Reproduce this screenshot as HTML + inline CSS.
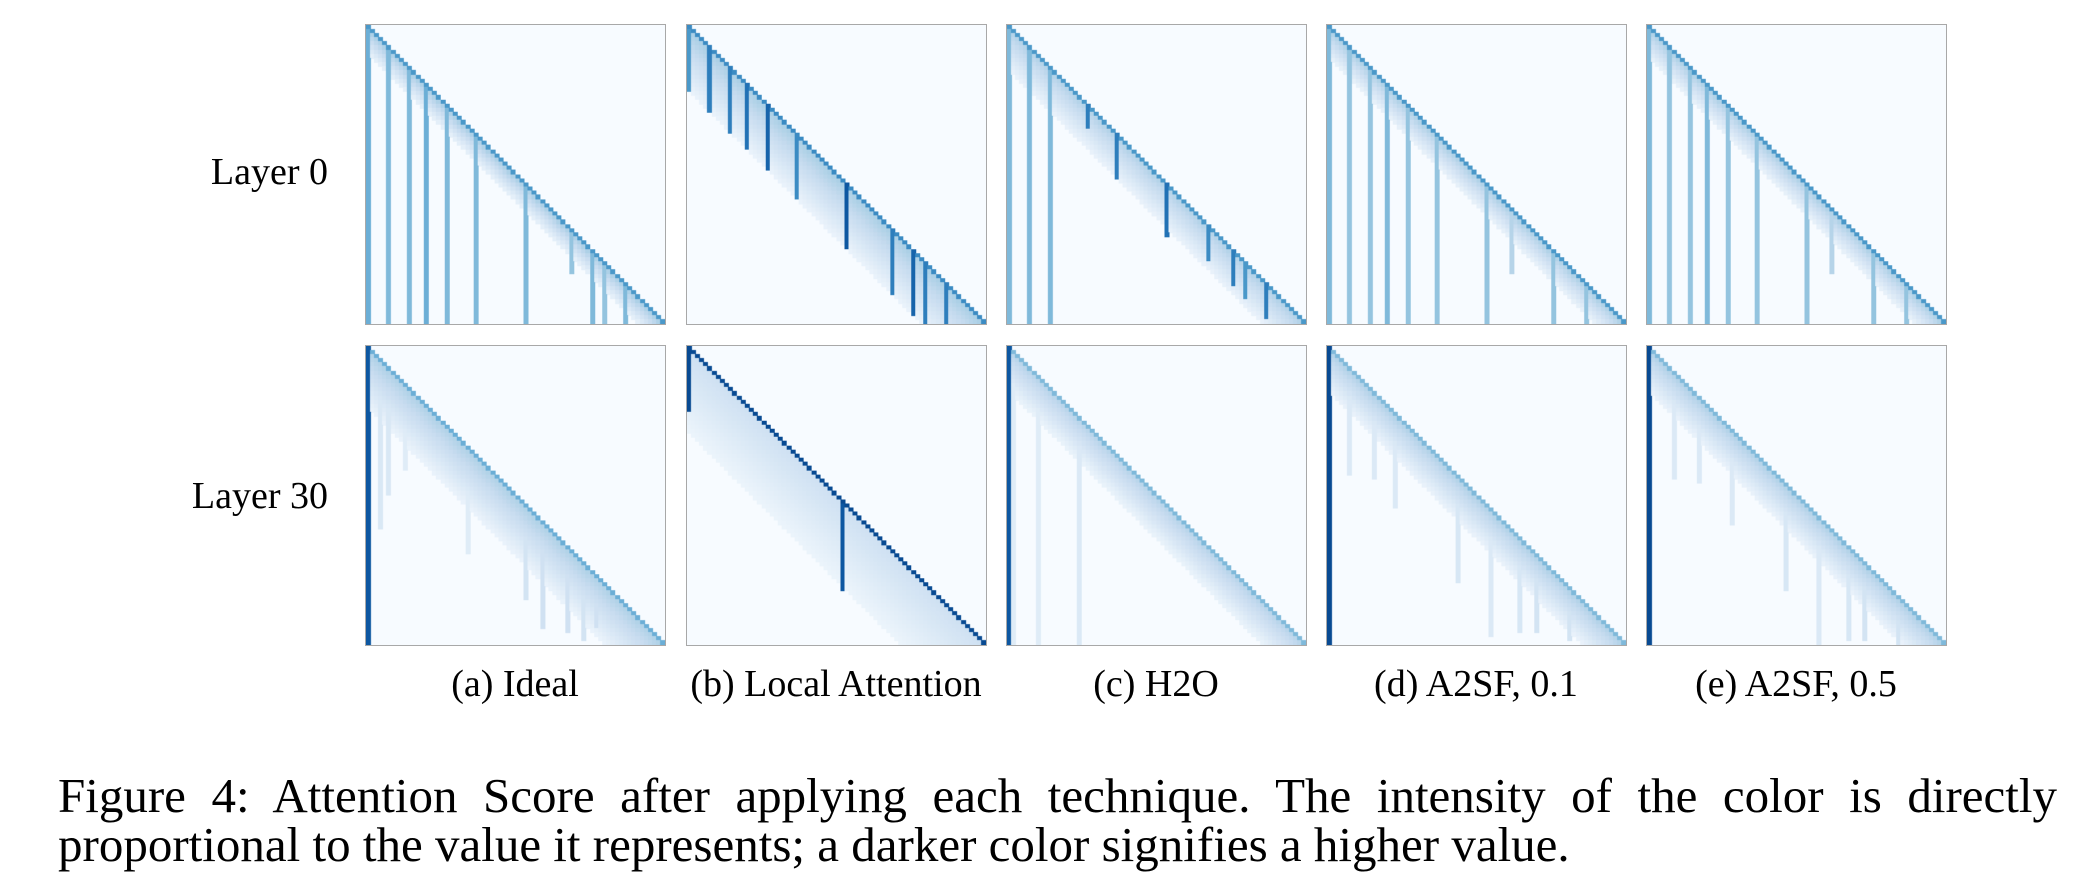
<!DOCTYPE html>
<html><head><meta charset="utf-8">
<style>
body{margin:0;background:#fff;width:2098px;height:896px;overflow:hidden;position:relative;font-family:"Liberation Serif","Times New Roman",serif;color:#000}
canvas{position:absolute;box-sizing:border-box;border:1px solid #a8a8a8}
.rl{position:absolute;font-size:38px;white-space:nowrap}
.pl{position:absolute;font-size:38px;white-space:nowrap;width:320px;text-align:center}
.cap{position:absolute;left:58px;width:1999px;font-size:49px;line-height:60px;white-space:nowrap}
</style></head><body>
<div class="rl" style="right:1770px;top:150px">Layer 0</div>
<div class="rl" style="right:1770px;top:474px">Layer 30</div>
<div id="figs"></div>
<div class="pl" style="left:355px;top:662px">(a) Ideal</div>
<div class="pl" style="left:676px;top:662px">(b) Local Attention</div>
<div class="pl" style="left:996px;top:662px">(c) H2O</div>
<div class="pl" style="left:1316px;top:662px">(d) A2SF, 0.1</div>
<div class="pl" style="left:1636px;top:662px">(e) A2SF, 0.5</div>
<div class="cap" style="top:766px;text-align:justify;text-align-last:justify">Figure 4: Attention Score after applying each technique. The intensity of the color is directly</div>
<div class="cap" style="top:815px">proportional to the value it represents; a darker color signifies a higher value.</div>
<script>
// grid size (tokens)
const N = 72;
const panelNames = ['ideal','local-attention','h2o','a2sf-01','a2sf-05'];
const layerNames = ['layer-0','layer-30'];
// per panel: diagonal intensity, band width, band intensity, col0 intensity, col0 length
const diagL0 = [0.6,0.65,0.6,0.6,0.6];
const bandWL0 = [6,15,10,7,7];
const bandIL0 = [0.32,0.3,0.28,0.3,0.3];
const col0IL0 = [0.5,0.6,0.45,0.45,0.45];
const col0LenL0 = [72,15,72,72,72];
const diagL30 = [0.5,0.9,0.45,0.45,0.45];
const bandWL30 = [14,20,10,10,10];
const bandIL30 = [0.28,0.16,0.26,0.28,0.28];
const col0IL30 = [0.85,0.9,0.85,0.9,0.9];
const col0LenL30 = [72,15,72,72,72];
// stripes: [column, intensity, length below diagonal]
const stripesL0 = [
 [[5,.45,72],[10,.45,72],[14,.5,72],[19,.45,72],[26,.45,72],[38,.45,72],[49,.4,10],[54,.45,72],[57,.4,72],[62,.45,72]],
 [[5,.7,15],[10,.7,15],[14,.75,15],[19,.8,15],[26,.65,15],[38,.85,15],[49,.7,15],[54,.8,15],[57,.7,15],[62,.7,15]],
 [[5,.45,72],[10,.45,72],[19,.7,5],[26,.7,10],[38,.75,12],[48,.65,8],[54,.7,8],[57,.6,8],[62,.7,8]],
 [[5,.4,72],[10,.4,72],[14,.45,72],[19,.4,72],[26,.4,72],[38,.4,72],[44,.3,15],[54,.4,72],[62,.4,72]],
 [[5,.4,72],[10,.4,72],[14,.45,72],[19,.4,72],[26,.4,72],[38,.4,72],[44,.3,15],[54,.4,72],[62,.4,72]]
];
const stripesL30 = [
 [[3,.15,40],[5,.15,30],[9,.12,20],[24,.12,25],[38,.18,22],[42,.2,25],[48,.2,20],[52,.18,18],[55,.2,12]],
 [[37,.85,21]],
 [[1,.12,72],[7,.12,72],[17,.14,72]],
 [[5,.14,25],[11,.14,20],[16,.14,22],[31,.16,25],[39,.14,30],[46,.16,22],[50,.18,18],[58,.18,12]],
 [[6,.14,25],[12,.14,20],[20,.14,22],[33,.16,25],[41,.14,30],[48,.16,22],[52,.18,18],[60,.18,12]]
];
const blues = [[247,251,255],[222,235,247],[198,219,239],[158,202,225],[107,174,214],[66,146,198],[33,113,181],[8,81,156],[8,48,107]];
function color(v){
  v=Math.max(0,Math.min(1,v))*(blues.length-1);
  const i=Math.min(blues.length-2,Math.floor(v)),t=v-i,a=blues[i],b=blues[i+1];
  return 'rgb('+a.map((x,k)=>Math.round(x+(b[k]-x)*t)).join(',')+')';
}
const xScale = (c,w)=>c*w/N;
const figs=document.getElementById('figs');
const lefts=[365,686,1006,1326,1646], tops=[24,345];
for(let L=0;L<2;L++){
  const diag=L?diagL30:diagL0, bw=L?bandWL30:bandWL0, bi=L?bandIL30:bandIL0,
        c0=L?col0IL30:col0IL0, c0l=L?col0LenL30:col0LenL0, st=L?stripesL30:stripesL0;
  for(let p=0;p<5;p++){
    const cv=document.createElement('canvas');
    
    
    cv.width=300;cv.height=300;
    cv.style.left=lefts[p]+'px';cv.style.top=tops[L]+'px';cv.style.width='301px';cv.style.height='301px';
    figs.appendChild(cv);
    const g=cv.getContext('2d');
    g.fillStyle=color(0);g.fillRect(0,0,300,300);
    for(let r=0;r<N;r++)for(let c=0;c<=r;c++){
      const d=r-c;let v=0;
      if(d===0)v=diag[p];
      else if(d<=bw[p])v=bi[p]*(1-d/(bw[p]+1))+0.05;
      if(c===0&&r<=c0l[p])v=Math.max(v,c0[p]);
      for(const s of st[p]) if(s[0]===c&&d<=s[2]) v=Math.max(v,s[1]);
      if(v<=0)continue;
      g.fillStyle=color(v);
      const x0=xScale(c,300),x1=xScale(c+1,300),y0=xScale(r,300),y1=xScale(r+1,300);
      g.fillRect(Math.floor(x0),Math.floor(y0),Math.ceil(x1)-Math.floor(x0),Math.ceil(y1)-Math.floor(y0));
    }
  }
}
</script>
</body></html>
